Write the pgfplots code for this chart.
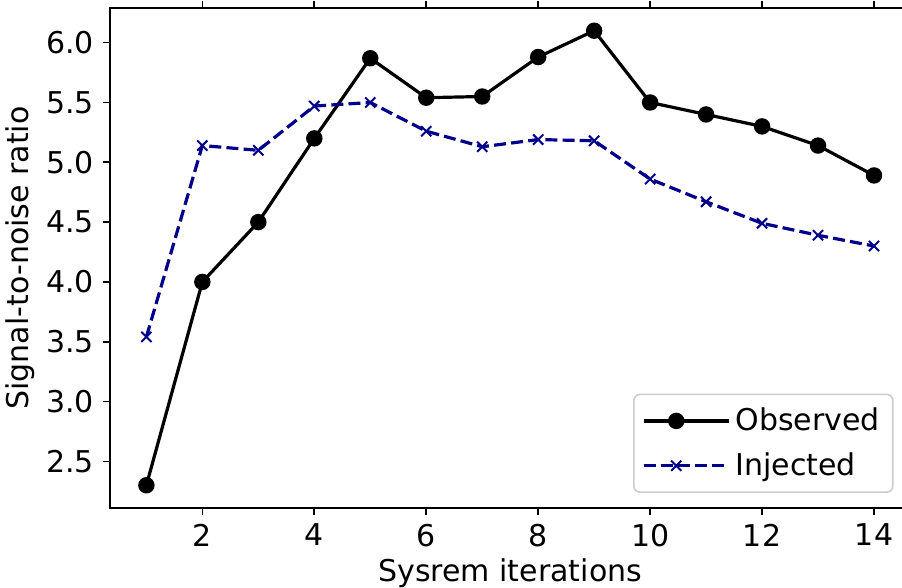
\documentclass[border=0pt]{standalone}
\usepackage{fontspec}
\setmainfont{DejaVu Sans}
\usepackage{pgfplots}
\pgfplotsset{compat=1.18}
\definecolor{injblue}{RGB}{0,0,139}
\newcommand{\fs}{\fontsize{15}{18}\selectfont}
\begin{document}
\begin{tikzpicture}
\begin{axis}[
  scale only axis,
  width=400.2pt, height=250pt,
  xmin=0.35, xmax=14.65, ymin=2.11, ymax=6.29,
  xtick={2,4,...,14},
  ytick={2.5,3.0,3.5,4.0,4.5,5.0,5.5,6.0},
  yticklabel style={/pgf/number format/fixed,/pgf/number format/fixed zerofill,/pgf/number format/precision=1},
  /pgf/number format/assume math mode=true,
  tick align=outside,
  major tick length=3.5pt,
  every tick/.style={black, line width=0.8pt},
  axis line style={line width=0.8pt},
  tick label style={font=\fs, text=black},
  xticklabel style={yshift=-1pt},
  yticklabel style={xshift=-1pt},
  label style={font=\fs},
  xlabel={Sysrem iterations},
  ylabel={Signal-to-noise ratio},
  xlabel style={yshift=1pt},
  ylabel style={yshift=-1pt},
  legend style={
    at={(0.979,0.030)}, anchor=south east,
    font=\fs, draw=black!20, rounded corners=3pt, line width=0.8pt,
    row sep=5.5pt, inner xsep=4pt, inner ysep=4.8pt,
    nodes={inner xsep=2.5pt},
    cells={anchor=west},
  },
  legend image code/.code={\draw[mark repeat=2,mark phase=2,#1] plot coordinates {(0cm,0cm) (0.575cm,0cm) (1.15cm,0cm)}; \path (0cm,0cm) -- (1.5cm,0cm);},
  clip=false,
]
\addplot[black, line width=1.6pt, mark=*, mark size=3.3pt, mark options={solid}] coordinates {
(1,2.30) (2,4.00) (3,4.50) (4,5.20) (5,5.87) (6,5.54) (7,5.55)
(8,5.88) (9,6.10) (10,5.50) (11,5.40) (12,5.30) (13,5.14) (14,4.89)};
\addlegendentry{Observed}
\addplot[injblue, line width=1.6pt, dash pattern=on 6pt off 2.6pt, mark=x, mark size=3.6pt, mark options={solid, line width=1pt}] coordinates {
(1,3.54) (2,5.14) (3,5.10) (4,5.47) (5,5.50) (6,5.26) (7,5.13)
(8,5.19) (9,5.18) (10,4.86) (11,4.67) (12,4.49) (13,4.39) (14,4.30)};
\addlegendentry{Injected}
\end{axis}
\pgfresetboundingbox
\path (-55pt,-40pt) rectangle (396pt,254pt);
\end{tikzpicture}
\end{document}
